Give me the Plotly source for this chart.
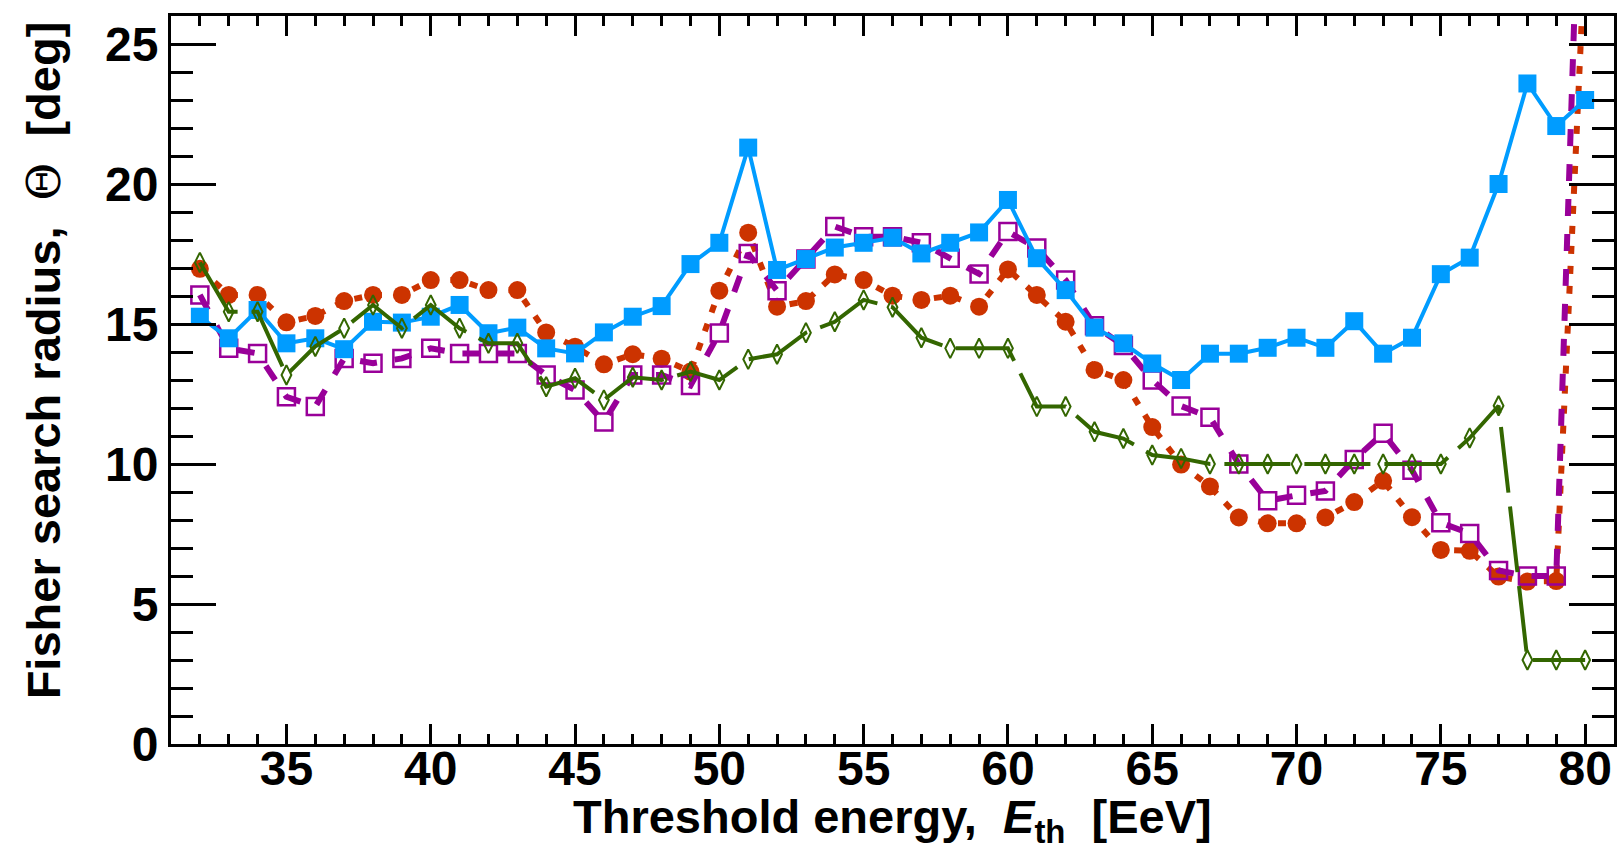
import plotly.graph_objects as go

energy = list(range(32, 81))

radius_blue = [15.26, 14.49, 15.5, 14.31, 14.49, 14.1, 15.08, 15.05, 15.26, 15.68,
               14.67, 14.87, 14.13, 13.95, 14.70, 15.26, 15.64, 17.14, 17.9, 21.3,
               16.93, 17.32, 17.73, 17.9, 18.08, 17.52, 17.9, 18.27, 19.43, 17.35,
               16.21, 14.87, 14.31, 13.59, 13.0, 13.94, 13.94, 14.15, 14.51, 14.15,
               15.1, 13.94, 14.51, 16.78, 17.37, 20.0, 23.59, 22.07, 23.0]

radius_red = [16.97, 16.04, 16.04, 15.06, 15.29, 15.82, 16.04, 16.04, 16.57, 16.57,
              16.21, 16.21, 14.70, 14.19, 13.56, 13.92, 13.76, 13.30, 16.19, 18.26,
              15.62, 15.82, 16.77, 16.57, 16.01, 15.86, 16.01, 15.62, 16.95, 16.04,
              15.08, 13.36, 13.0, 11.32, 9.98, 9.2, 8.09, 7.88, 7.88, 8.09,
              8.64, 9.4, 8.1, 6.93, 6.9, 5.98, 5.8, 5.82, 28.5]

radius_purple = [16.04, 14.13, 13.95, 12.40, 12.05, 13.77, 13.60, 13.77, 14.13, 13.95,
                 13.95, 13.95, 13.18, 12.64, 11.5, 13.18, 13.18, 12.80, 14.68, 17.52,
                 16.19, 17.32, 18.48, 18.12, 18.12, 17.9, 17.35, 16.79, 18.30, 17.71,
                 16.57, 14.94, 14.23, 13.0, 12.07, 11.67, 10.0, 8.69, 8.88, 9.04,
                 10.16, 11.1, 9.78, 7.9, 7.52, 6.2, 6.0, 6.0, 38.0]

radius_green = [17.2, 15.44, 15.44, 13.18, 14.2, 14.85, 15.68, 14.85, 15.68, 14.85,
                14.31, 14.31, 12.76, 13.06, 12.29, 13.1, 13.0, 13.3, 13.0, 13.74,
                13.92, 14.69, 15.08, 15.86, 15.6, 14.51, 14.13, 14.13, 14.13, 12.05,
                12.05, 11.15, 10.91, 10.32, 10.2, 10.0, 10.0, 10.0, 10.0, 10.0,
                10.0, 10.0, 10.0, 10.0, 10.93, 12.08, 3.0, 3.0, 3.0]

x_ticks = [35, 40, 45, 50, 55, 60, 65, 70, 75, 80]
y_ticks = [0, 5, 10, 15, 20, 25]

BLUE = "#009cff"
RED = "#cc3300"
PURPLE = "#990099"
GREEN = "#336600"

fig = go.Figure()

fig.add_trace(go.Scatter(
    x=energy, y=radius_red, mode="lines+markers",
    line=dict(color=RED, width=6, dash="8px,12px"),
    marker=dict(symbol="circle", size=18, color=RED),
    showlegend=False))

fig.add_trace(go.Scatter(
    x=energy, y=radius_purple, mode="lines+markers",
    line=dict(color=PURPLE, width=6, dash="17px,18px"),
    marker=dict(symbol="square-open", size=17, color=PURPLE, line=dict(width=2.5, color=PURPLE)),
    showlegend=False))

fig.add_trace(go.Scatter(
    x=energy, y=radius_blue, mode="lines+markers",
    line=dict(color=BLUE, width=4),
    marker=dict(symbol="square", size=18, color=BLUE),
    showlegend=False))

fig.add_trace(go.Scatter(
    x=energy, y=radius_green, mode="lines+markers",
    line=dict(color=GREEN, width=4, dash="66px,14px"),
    marker=dict(symbol="diamond-tall-open", size=14, color=GREEN, line=dict(width=2, color=GREEN)),
    showlegend=False))

tickfont = dict(family="Liberation Sans", size=48, color="black", weight="bold")

fig.update_layout(
    width=1619, height=850,
    margin=dict(l=171, r=2, t=16, b=106),
    paper_bgcolor="white", plot_bgcolor="white",
    xaxis=dict(
        range=[31, 81], showgrid=False, zeroline=False,
        showline=True, linecolor="black", linewidth=3, mirror="allticks",
        ticks="inside", ticklen=20, tickwidth=2.5, tickcolor="black",
        tickvals=x_ticks, ticktext=[str(v) for v in x_ticks],
        tickfont=tickfont, ticklabelstandoff=-20,
        minor=dict(ticks="inside", ticklen=10, tickwidth=2.5, tickcolor="black", dtick=1, tick0=0, showgrid=False),
    ),
    yaxis=dict(
        range=[0, 26], showgrid=False, zeroline=False,
        showline=True, linecolor="black", linewidth=3, mirror="allticks",
        ticks="inside", ticklen=45, tickwidth=2.5, tickcolor="black",
        tickvals=y_ticks, ticktext=[str(v) for v in y_ticks],
        tickfont=tickfont,
        minor=dict(ticks="inside", ticklen=22, tickwidth=2.5, tickcolor="black", dtick=1, tick0=0, showgrid=False),
    ),
    annotations=[
        dict(
            text="Threshold energy,\u00a0 <i>E</i><sub>th</sub>\u00a0 [EeV]",
            xref="paper", yref="paper", x=0.5, y=0, xanchor="center", yanchor="top",
            yshift=-44, showarrow=False,
            font=dict(family="Liberation Sans", size=47, color="black", weight="bold"),
        ),
        dict(
            text="Fisher search radius,\u00a0 <span style=\"font-family:'DejaVu Serif';font-weight:normal;font-size:46px\">\u0398</span>\u00a0 [deg]",
            xref="paper", yref="paper", x=0, y=0.527, xanchor="center", yanchor="middle",
            xshift=-127, textangle=-90, showarrow=False,
            font=dict(family="Liberation Sans", size=47, color="black", weight="bold"),
        ),
    ],
)

fig.write_html("out.html")
